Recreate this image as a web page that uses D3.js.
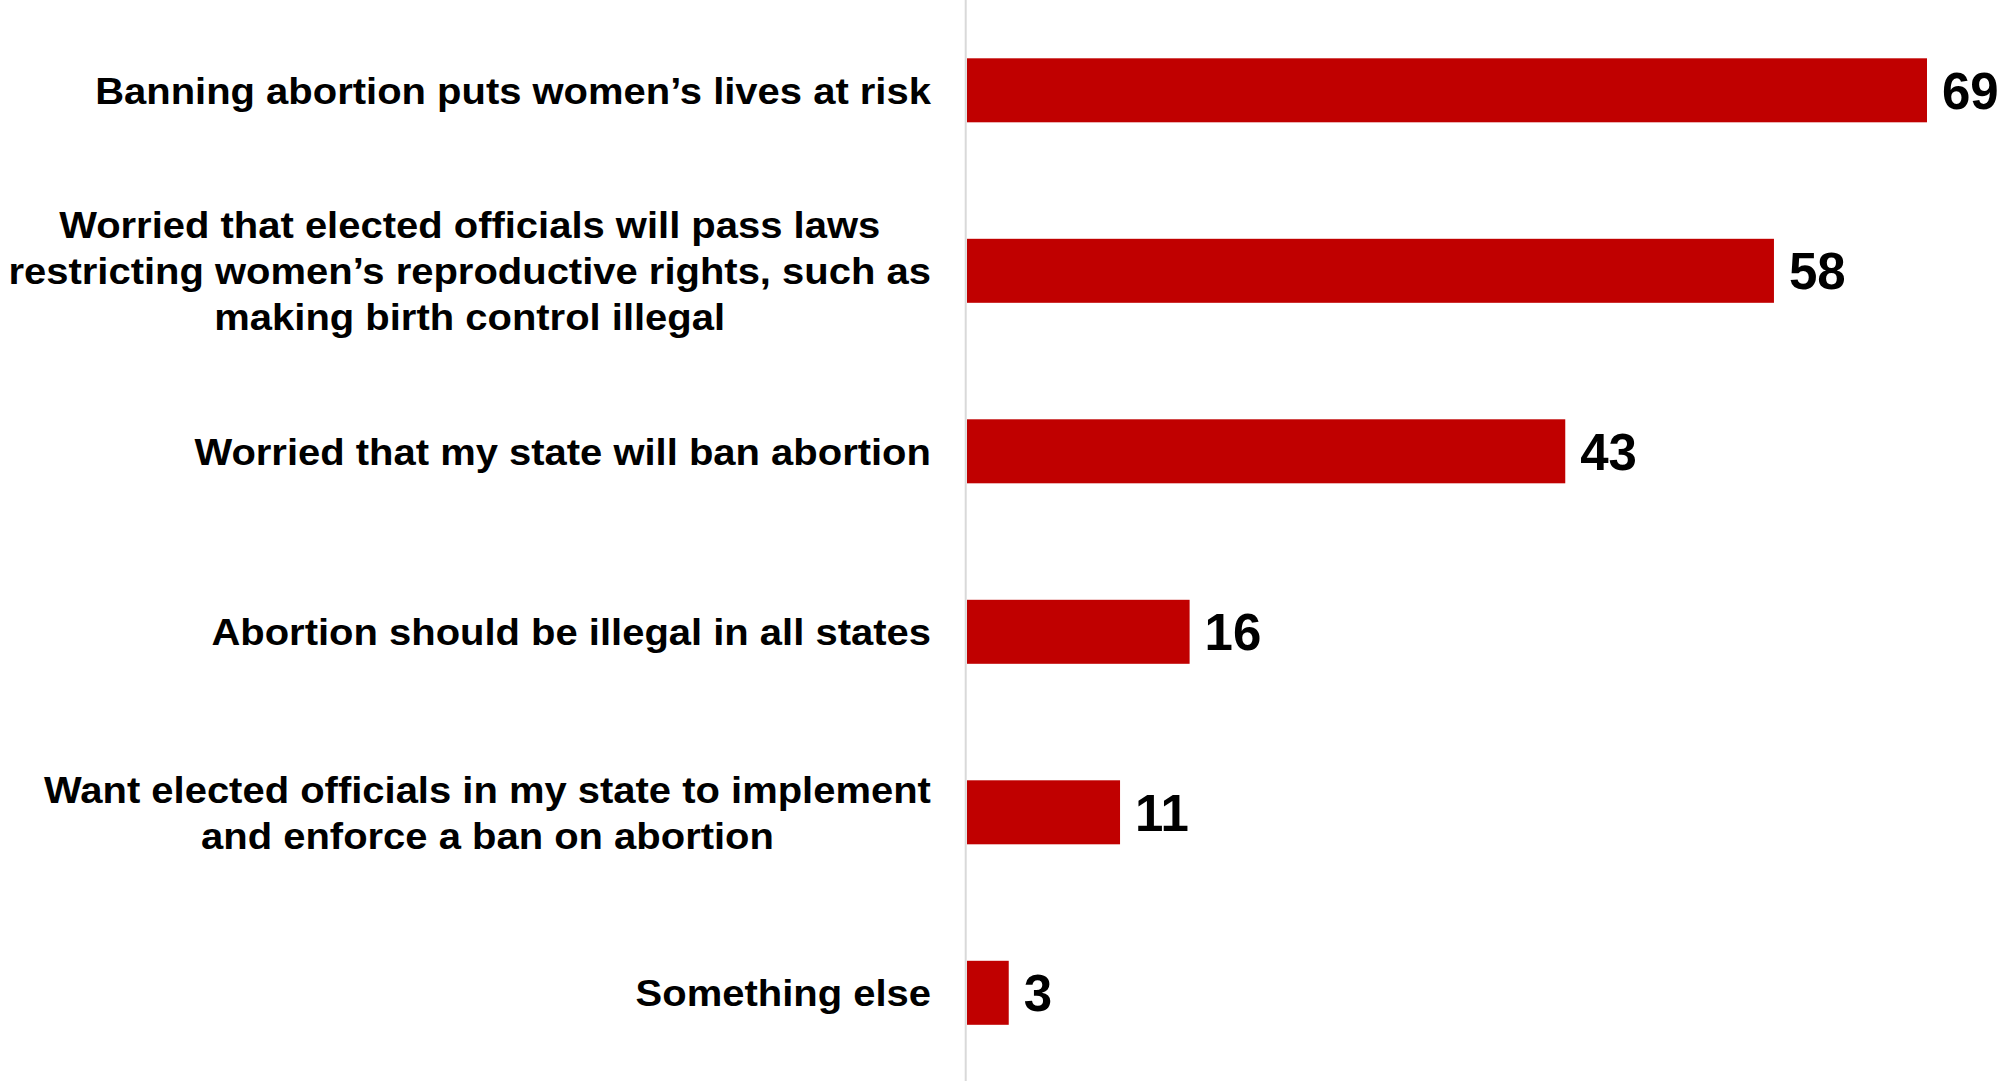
<!DOCTYPE html>
<html>
<head>
<meta charset="utf-8">
<script src="https://cdn.jsdelivr.net/npm/d3@7"></script>
<style>
  html, body { margin: 0; padding: 0; background: #ffffff; }
  svg { display: block; }
  text { font-family: "Liberation Sans", Arial, Helvetica, sans-serif; font-weight: bold; fill: #000; }
</style>
</head>
<body>
<svg id="chart" width="2004" height="1081"></svg>
<script>
const categories = [
  ["Banning abortion puts women\u2019s lives at risk"],
  ["Worried that elected officials will pass laws", "restricting women\u2019s reproductive rights, such as", "making birth control illegal"],
  ["Worried that my state will ban abortion"],
  ["Abortion should be illegal in all states"],
  ["Want elected officials in my state to implement", "and enforce a ban on abortion"],
  ["Something else"]
];
const values = [69, 58, 43, 16, 11, 3];

const W = 2004, H = 1081;
const axisX = 967;
const stretch = 1.066;
const labelSize = 37.5, valueSize = 51, lineGap = 46;

const svg = d3.select("#chart");

const x = d3.scaleLinear().domain([0, 69]).range([axisX, 1927]);
const y = d3.scaleBand().domain(d3.range(categories.length))
  .range([0, 1083.1]).paddingInner(0.6454).paddingOuter(0.323);

// axis line
svg.append("line")
  .attr("x1", axisX - 1.3).attr("x2", axisX - 1.3)
  .attr("y1", 0).attr("y2", H)
  .attr("stroke", "#d9d9d9").attr("stroke-width", 2);

// bars
svg.selectAll("rect.bar").data(values).enter().append("rect")
  .attr("class", "bar")
  .attr("x", x(0))
  .attr("y", (d, i) => y(i))
  .attr("width", d => x(d) - x(0))
  .attr("height", y.bandwidth())
  .attr("fill", "#c00000");

// value labels
svg.selectAll("g.val").data(values).enter().append("g")
  .attr("class", "val")
  .attr("transform", (d, i) => `translate(${x(d) + 15},${y(i) + y.bandwidth() / 2 + valueSize * 0.358})`)
  .append("text")
  .attr("font-size", valueSize)
  .text(d => d);

// category labels
categories.forEach((lines, i) => {
  const cy = y(i) + y.bandwidth() / 2;
  const g = svg.append("g");
  const n = lines.length;
  const texts = lines.map((ln, k) => g.append("text")
    .attr("text-anchor", "middle")
    .attr("x", 0)
    .attr("y", (k - (n - 1) / 2) * lineGap + labelSize * 0.358)
    .attr("font-size", labelSize)
    .text(ln));
  const maxW = d3.max(texts, t => t.node().getComputedTextLength());
  const cx = 931 - maxW * stretch / 2;
  g.attr("transform", `translate(${cx},${cy}) scale(${stretch},1)`);
});
</script>
</body>
</html>
